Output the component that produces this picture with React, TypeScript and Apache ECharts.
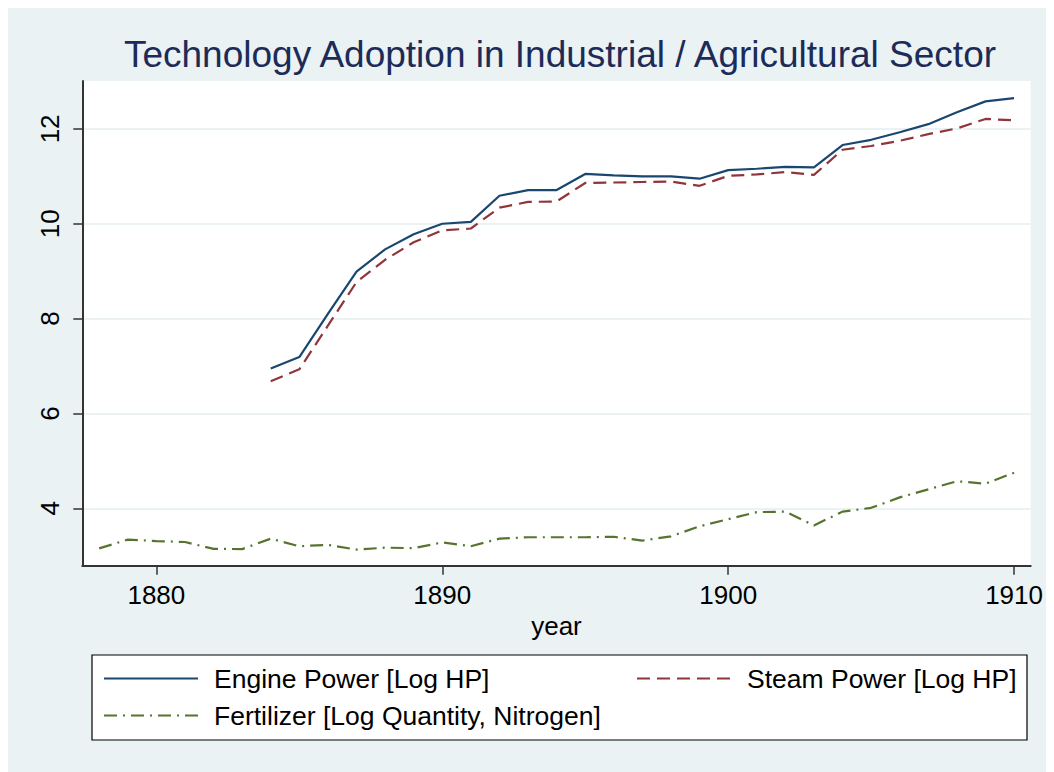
import React, { useEffect, useRef } from "react";
import * as echarts from "echarts";

const years = [1878, 1879, 1880, 1881, 1882, 1883, 1884, 1885, 1886, 1887, 1888, 1889, 1890, 1891, 1892, 1893, 1894, 1895, 1896, 1897, 1898, 1899, 1900, 1901, 1902, 1903, 1904, 1905, 1906, 1907, 1908, 1909, 1910];

const engine = [null, null, null, null, null, null, 6.95, 7.19, 8.1, 8.99, 9.46, 9.78, 10.0, 10.04, 10.59, 10.71, 10.71, 11.05, 11.02, 11.0, 11.0, 10.95, 11.13, 11.16, 11.2, 11.19, 11.66, 11.77, 11.93, 12.1, 12.35, 12.58, 12.65];

const steam = [null, null, null, null, null, null, 6.68, 6.93, 7.85, 8.77, 9.24, 9.61, 9.86, 9.9, 10.34, 10.46, 10.47, 10.86, 10.87, 10.88, 10.89, 10.8, 11.01, 11.04, 11.09, 11.03, 11.56, 11.64, 11.75, 11.89, 12.01, 12.21, 12.18];

const fertilizer = [3.155, 3.34, 3.31, 3.29, 3.145, 3.14, 3.36, 3.2, 3.23, 3.13, 3.17, 3.16, 3.28, 3.2, 3.36, 3.39, 3.39, 3.39, 3.4, 3.32, 3.41, 3.62, 3.77, 3.92, 3.93, 3.64, 3.93, 4.01, 4.23, 4.4, 4.57, 4.52, 4.75];

const xTicks = [1880, 1890, 1900, 1910];
const yTicks = [4, 6, 8, 10, 12];

const seriesNames = ["Engine Power [Log HP]", "Steam Power [Log HP]", "Fertilizer [Log Quantity, Nitrogen]"];
const titleText = "Technology Adoption in Industrial / Agricultural Sector";
const xName = "year";

const FONT = "'Liberation Sans', Arial, Helvetica, sans-serif";

function pairs(vals: (number | null)[]) {
  const out: [number, number][] = [];
  vals.forEach((v, i) => {
    if (v !== null) out.push([years[i], v]);
  });
  return out;
}

export default function App() {
  const ref = useRef<HTMLDivElement>(null);
  useEffect(() => {
    if (!ref.current) return;
    const chart = echarts.init(ref.current, undefined, { renderer: "svg" });
    const legendText = { fontSize: 26.5, color: "#000", fontFamily: FONT, padding: [0, 0, 0, 11] };
    const legendCommon = {
      padding: 0,
      itemWidth: 94,
      itemHeight: 14,
      itemStyle: { opacity: 0 },
      textStyle: legendText,
    };
    chart.setOption({
      animation: false,
      backgroundColor: "#eaf2f3",
      title: {
        text: titleText,
        left: 552,
        top: 28,
        textAlign: "center",
        padding: 0,
        textStyle: { fontSize: 37, fontWeight: "normal", color: "#1c2b57", fontFamily: FONT },
      },
      grid: {
        left: 74.3,
        top: 73,
        right: 10.3,
        bottom: 206.3,
        show: true,
        backgroundColor: "#ffffff",
        borderWidth: 0,
      },
      xAxis: {
        type: "value",
        min: 1877.41,
        max: 1910.58,
        name: xName,
        nameLocation: "middle",
        nameGap: 44,
        nameTextStyle: { fontSize: 26, color: "#000", fontFamily: FONT },
        axisLine: { show: true, onZero: false, lineStyle: { color: "#333", width: 2 } },
        axisTick: { show: true, length: 9, customValues: xTicks, lineStyle: { color: "#333", width: 1.5 } },
        axisLabel: {
          customValues: xTicks,
          fontSize: 26,
          color: "#000",
          margin: 16,
          fontFamily: FONT,
          formatter: (v: number) => String(v),
        },
        splitLine: { show: false },
      },
      yAxis: {
        type: "value",
        min: 2.79,
        max: 13.01,
        axisLine: { show: true, onZero: false, lineStyle: { color: "#333", width: 2 } },
        axisTick: { show: true, length: 9, customValues: yTicks, lineStyle: { color: "#333", width: 1.5 } },
        axisLabel: {
          customValues: yTicks,
          fontSize: 26,
          color: "#000",
          margin: 19,
          rotate: 90,
          fontFamily: FONT,
          formatter: (v: number) => String(v),
        },
        splitLine: { show: true, lineStyle: { color: "#eaf2f3", width: 2 } },
      },
      legend: [
        { ...legendCommon, data: [seriesNames[0]], left: 95, top: 657 },
        { ...legendCommon, data: [seriesNames[1]], left: 628, top: 657 },
        { ...legendCommon, data: [seriesNames[2]], left: 95, top: 694 },
      ],
      graphic: [
        {
          type: "rect",
          z: -1,
          shape: { x: 84, y: 647, width: 935, height: 85 },
          style: { fill: "#ffffff", stroke: "#000", lineWidth: 1.2 },
        },
      ],
      series: [
        {
          name: seriesNames[0],
          type: "line",
          data: pairs(engine),
          symbol: "none",
          showSymbol: false,
          lineStyle: { color: "#1a476f", width: 2.2, type: "solid" },
          itemStyle: { color: "#1a476f" },
        },
        {
          name: seriesNames[1],
          type: "line",
          data: pairs(steam),
          symbol: "none",
          showSymbol: false,
          lineStyle: { color: "#90353b", width: 2.2, type: [13, 7] },
          itemStyle: { color: "#90353b" },
        },
        {
          name: seriesNames[2],
          type: "line",
          data: pairs(fertilizer),
          symbol: "none",
          showSymbol: false,
          lineStyle: { color: "#55752f", width: 2.2, type: [13, 6, 2, 6] },
          itemStyle: { color: "#55752f" },
        },
      ],
    });
    return () => chart.dispose();
  }, []);
  return <div ref={ref} style={{ width: 1038, height: 764 }} />;
}
